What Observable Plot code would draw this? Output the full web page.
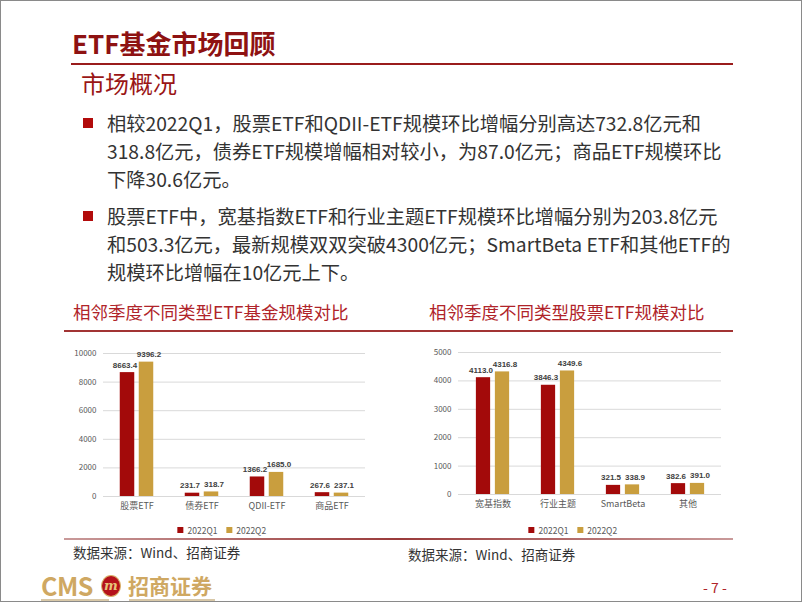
<!DOCTYPE html>
<html>
<head>
<meta charset="utf-8">
<script src="https://cdn.jsdelivr.net/npm/d3@7"></script>
<script src="https://cdn.jsdelivr.net/npm/@observablehq/plot@0.6"></script>
<style>
  html, body { margin: 0; padding: 0; background: #fff; }
  body { width: 802px; height: 602px; overflow: hidden; font-family: "Noto Sans CJK SC", "Noto Sans", sans-serif; }
  #page { position: relative; width: 802px; height: 602px; box-sizing: border-box; border: 1px solid #8a8a8a; overflow: hidden; }
  .abs { position: absolute; white-space: nowrap; }
  .title { left: 71px; top: 24px; font-size: 26px; font-weight: bold; color: #8E1212; line-height: 36px; }
  .rule { position: absolute; height: 2px; background: #9A1C1C; }
  .sub { left: 80px; top: 66px; font-size: 24px; color: #9A1515; line-height: 32px; }
  .line { font-size: 19.25px; color: #333; line-height: 28px; left: 106px; }
  .bullet { position: absolute; width: 10px; height: 10px; background: #B20B0B; left: 82px; }
  .ctitle { font-size: 17.5px; color: #B0242A; line-height: 24px; top: 299px; }
  .src { font-size: 13.5px; color: #333; line-height: 20px; top: 541px; }
  .legend { position: absolute; transform: translateX(-50%); }
  .vlabel text { font-family: "Liberation Sans", Arial, sans-serif; }
</style>
</head>
<body>
<div id="page">
  <div class="abs title">ETF基金市场回顾</div>
  <div class="rule" style="left:70px; width:662px; top:62px;"></div>
  <div class="abs sub">市场概况</div>

  <div class="bullet" style="top:117px;"></div>
  <div class="abs line" style="top:108px;">相较2022Q1，股票ETF和QDII-ETF规模环比增幅分别高达732.8亿元和</div>
  <div class="abs line" style="top:136px;">318.8亿元，债券ETF规模增幅相对较小，为87.0亿元；商品ETF规模环比</div>
  <div class="abs line" style="top:164px;">下降30.6亿元。</div>

  <div class="bullet" style="top:210px;"></div>
  <div class="abs line" style="top:201px;">股票ETF中，宽基指数ETF和行业主题ETF规模环比增幅分别为203.8亿元</div>
  <div class="abs line" style="top:229px;">和503.3亿元，最新规模双双突破4300亿元；SmartBeta ETF和其他ETF的</div>
  <div class="abs line" style="top:257px;">规模环比增幅在10亿元上下。</div>

  <div class="abs ctitle" style="left:72px;">相邻季度不同类型ETF基金规模对比</div>
  <div class="abs ctitle" style="left:428px;">相邻季度不同类型股票ETF规模对比</div>
  <div class="rule" style="left:63px; width:669px; top:329px; height:1.5px; background:#A23434;"></div>
  <div class="rule" style="left:63px; width:669px; top:537px; height:2px; background: linear-gradient(to right, #c99a9a, #9a3a3a 50%, #c99a9a);"></div>

  <div id="chart1" style="position:absolute; left:60px; top:340px;"></div>
  <div id="chart2" style="position:absolute; left:410px; top:340px;"></div>
  <div id="legend1" class="legend" style="left:225px; top:512px;"></div>
  <div id="legend2" class="legend" style="left:576px; top:512px;"></div>

  <div class="abs src" style="left:72px;">数据来源：Wind、招商证券</div>
  <div class="abs src" style="left:407px; top:543px;">数据来源：Wind、招商证券</div>

  <div class="abs" style="left:40px; top:569px; font-size:25px; font-weight:bold; color:#CFA862; line-height:30px; letter-spacing:-0.5px;">CMS</div>
  <div class="abs" style="left:100px; top:574px; width:20px; height:22px; border-radius:50%; background:#B5121B; border:1.5px solid #D9B36A; box-sizing:border-box; color:#E8C47A; font-size:13px; font-weight:bold; line-height:19px; text-align:center; font-family:'DejaVu Serif', serif; font-style:italic;">m</div>
  <div class="abs" style="left:127px; top:570px; font-size:21px; color:#CFA862; line-height:28px; font-weight:bold;">招商证券</div>
  <div class="rule" style="left:40px; width:68px; top:598px; height:2px; background:#d8c8a8;"></div>
  <div class="rule" style="left:128px; width:86px; top:598px; height:2px; background:#d8c8a8;"></div>
  <div class="abs" style="left:702px; top:576px; font-size:14px; color:#B0242A; line-height:20px;">- 7 -</div>
</div>

<script>
const series = ["2022Q1", "2022Q2"];
const colors = ["#A30A0A", "#C99E3E"];

const cats1 = ["股票ETF", "债券ETF", "QDII-ETF", "商品ETF"];
const q1Values1 = [8663.4, 231.7, 1366.2, 267.6];
const q2Values1 = [9396.2, 318.7, 1685.0, 237.1];
const yTicks1 = [0, 2000, 4000, 6000, 8000, 10000];

const cats2 = ["宽基指数", "行业主题", "SmartBeta", "其他"];
const q1Values2 = [4113.0, 3846.3, 321.5, 382.6];
const q2Values2 = [4316.8, 4349.6, 338.9, 391.0];
const yTicks2 = [0, 1000, 2000, 3000, 4000, 5000];

function makeChart({cats, q1, q2, ticks, yMax, width, height, marginLeft, marginRight, marginTop, marginBottom}) {
  const rows1 = cats.map((c, i) => ({cat: c, value: q1[i]}));
  const rows2 = cats.map((c, i) => ({cat: c, value: q2[i]}));
  const band = (width - marginLeft - marginRight) / cats.length;
  const inset = (band - 15) / 2;
  const fmt = d => d.value.toFixed(1);
  const labelStyle = {fontSize: 8, fontWeight: "bold", fill: "#404040", lineAnchor: "bottom", dy: -5, className: "vlabel"};
  return Plot.plot({
    width, height, marginLeft, marginRight, marginTop, marginBottom,
    style: {fontFamily: "'Noto Sans CJK SC', sans-serif", background: "transparent", color: "#595959"},
    x: {domain: cats, padding: 0, label: null},
    y: {domain: [0, yMax], label: null},
    marks: [
      Plot.ruleY(ticks, {stroke: "#d9d9d9", strokeWidth: 1}),
      Plot.axisY({ticks, tickFormat: d => String(d), tickSize: 0, tickPadding: 7, fontSize: 8, label: null, fill: "#595959"}),
      Plot.axisX({tickSize: 0, tickPadding: 6, fontSize: 9, label: null, fill: "#595959"}),
      Plot.barY(rows1, {x: "cat", y: "value", fill: colors[0], dx: -9.5, insetLeft: inset, insetRight: inset}),
      Plot.barY(rows2, {x: "cat", y: "value", fill: colors[1], dx: 9.5, insetLeft: inset, insetRight: inset}),
      Plot.text(rows1, {x: "cat", y: "value", text: fmt, dx: -12, ...labelStyle}),
      Plot.text(rows2, {x: "cat", y: "value", text: fmt, dx: 12, ...labelStyle})
    ]
  });
}

document.getElementById("chart1").append(makeChart({
  cats: cats1, q1: q1Values1, q2: q2Values1, ticks: yTicks1, yMax: 10000,
  width: 310, height: 175, marginLeft: 42, marginRight: 6, marginTop: 12, marginBottom: 20
}));
document.getElementById("chart2").append(makeChart({
  cats: cats2, q1: q1Values2, q2: q2Values2, ticks: yTicks2, yMax: 5000,
  width: 320, height: 173, marginLeft: 47, marginRight: 10, marginTop: 11, marginBottom: 20
}));

function makeLegend() {
  return Plot.legend({
    color: {type: "ordinal", domain: series, range: colors},
    swatchSize: 6,
    style: {fontSize: "8.5px", color: "#595959", fontFamily: "'Noto Sans CJK SC', sans-serif", background: "transparent"}
  });
}
document.getElementById("legend1").append(makeLegend());
document.getElementById("legend2").append(makeLegend());
</script>
</body>
</html>
